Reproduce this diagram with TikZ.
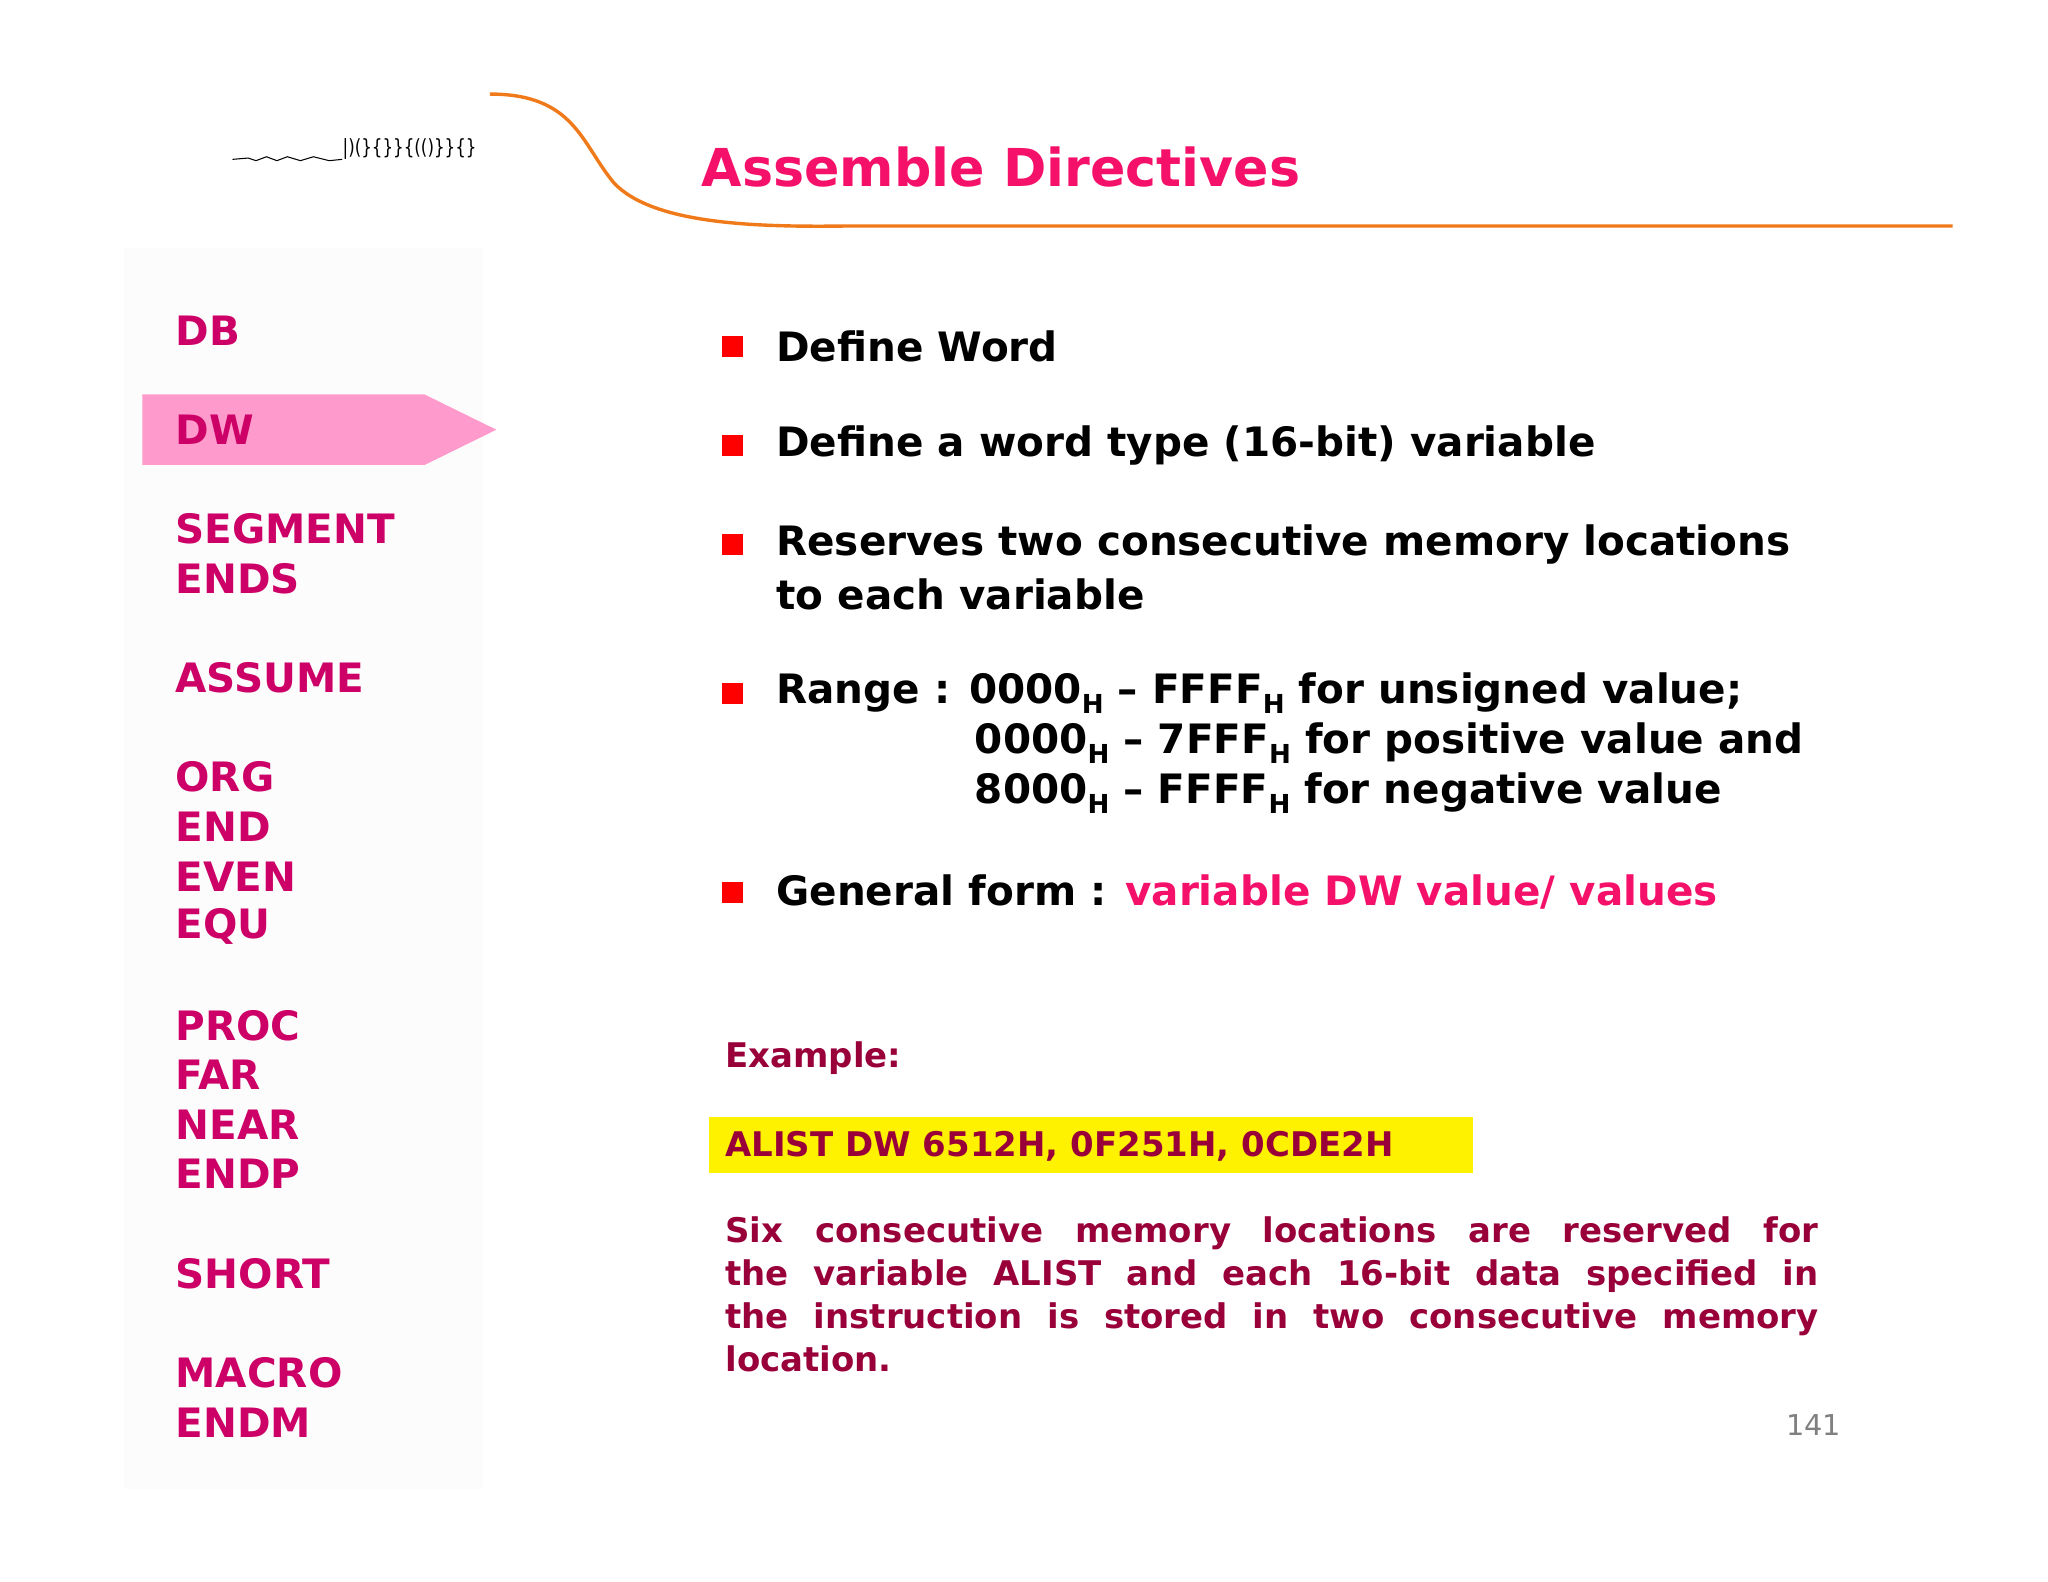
\documentclass[tikz,border=0pt]{standalone}
\usepackage{fontspec}
\setmainfont{DejaVu Sans}
\definecolor{titlepink}{HTML}{F5106A}
\definecolor{listpink}{HTML}{CC0066}
\definecolor{exred}{HTML}{99003A}
\definecolor{arrowpink}{HTML}{FF9ACC}
\definecolor{curveorange}{HTML}{F07A1A}
\newcommand{\subH}{\raisebox{-0.45ex}{\fontsize{10}{10}\bfseries\selectfont H}}
\tikzset{
 lst/.style={anchor=west,font=\fontsize{15.5}{15.5}\bfseries\selectfont,text=listpink,inner sep=0pt},
 body/.style={anchor=west,font=\fontsize{15.5}{15.5}\bfseries\selectfont,text=black,inner sep=0pt},
 bul/.style={fill=red,minimum size=8pt,inner sep=0pt},
 ex/.style={anchor=west,font=\fontsize{13}{16.5}\bfseries\selectfont,text=exred,inner sep=0pt}
}
\begin{document}
\begin{tikzpicture}[x=0.5pt,y=-0.5pt]
\useasboundingbox[fill=white] (0,0) rectangle (1568,1211);
\fill[black!1] (95,190) rectangle (370,1140);
% logo squiggle
\draw[black,thin] (178,122) -- (190,121) -- (196,123) -- (204,120) -- (212,123) -- (220,120) -- (230,123) -- (240,120) -- (252,123) -- (262,122);
\node[anchor=west,inner sep=0pt,font=\fontsize{8}{8}\selectfont,xscale=0.8] (logo) at (262,114) {|)(\}\{\}\}\{(()\}\}\{\}};
% orange curve
\draw[curveorange,line width=1.3pt] (375,72) .. controls (440,72) and (445,110) .. (470,140) .. controls (500,172) and (580,174) .. (650,173) -- (1495,173);
\node[anchor=west,inner sep=0pt,font=\fontsize{20}{20}\bfseries\selectfont,text=titlepink] (title) at (537,128) {Assemble Directives};
% DW arrow
\fill[arrowpink] (109,302) -- (325,302) -- (380,329) -- (325,356) -- (109,356) -- cycle;
\node[lst] (l1) at (134,253) {DB};
\node[lst] (l2) at (134,329) {DW};
\node[lst] (l3) at (134,405) {SEGMENT};
\node[lst] (l4) at (134,443) {ENDS};
\node[lst] (l5) at (134,519) {ASSUME};
\node[lst] (l6) at (134,595) {ORG};
\node[lst] (l7) at (134,633) {END};
\node[lst] (l8) at (134,671) {EVEN};
\node[lst] (l9) at (134,709) {EQU};
\node[lst] (l10) at (134,785) {PROC};
\node[lst] (l11) at (134,823) {FAR};
\node[lst] (l12) at (134,861) {NEAR};
\node[lst] (l13) at (134,899) {ENDP};
\node[lst] (l14) at (134,975) {SHORT};
\node[lst] (l15) at (134,1051) {MACRO};
\node[lst] (l16) at (134,1089) {ENDM};
% bullets
\node[bul] (b1) at (561,265) {};
\node[bul] (b2) at (561,341) {};
\node[bul] (b3) at (561,417) {};
\node[bul] (b4) at (561,531) {};
\node[bul] (b5) at (561,683) {};
\node[body] (t1) at (594,265) {Define Word};
\node[body] (t2) at (594,341) {Define a word type (16-bit) variable};
\node[body] (t3) at (594,417) {Reserves two consecutive memory locations};
\node[body] (t3b) at (594,455) {to each variable};
\node[body] (t4) at (594,531) {Range : 0000\subH{} – FFFF\subH{} for unsigned value;};
\node[body] (t4b) at (746,569) {0000\subH{} – 7FFF\subH{} for positive value and};
\node[body] (t4c) at (746,607) {8000\subH{} – FFFF\subH{} for negative value};
\node[body] (t5) at (594,683) {General form : \textcolor{titlepink}{variable DW value/ values}};
\node[ex] (exl) at (555,810) {Example:};
\fill[yellow] (543,855) rectangle (1128,898);
\node[ex] (alist) at (555,878) {ALIST DW 6512H, 0F251H, 0CDE2H};
\node[ex,anchor=north west,text width=418.5pt,align=justify] (para) at (555,931) {Six consecutive memory locations are reserved for\linebreak the variable ALIST and each 16-bit data specified in\linebreak the instruction is stored in two consecutive memory\linebreak location.};
\node[anchor=east,inner sep=0pt,font=\fontsize{11}{11}\selectfont,text=black!50] (pg) at (1410,1091) {141};
\end{tikzpicture}
\end{document}
